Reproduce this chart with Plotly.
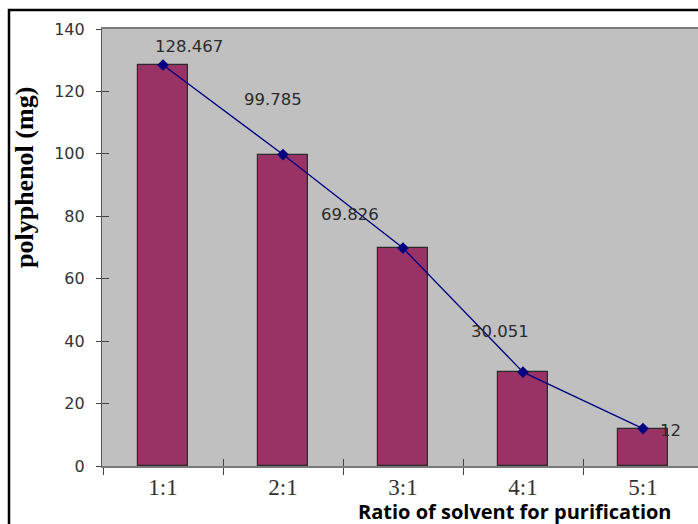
import plotly.graph_objects as go

# Polyphenol yield by solvent ratio
ratios = ["1:1", "2:1", "3:1", "4:1", "5:1"]
polyphenol = [128.467, 99.785, 69.826, 30.051, 12]
value_text = ["128.467", "99.785", "69.826", "30.051", "12"]
y_ticks = [0, 20, 40, 60, 80, 100, 120, 140]

# pixel offsets of each value label from its point
label_dx = [26, -10, -53, -23, 27]
label_dy = [19, 55, 34, 41, -2]

W, H = 698, 524
ML, MR, MT, MB = 102, 0, 29, 58
PW, PH = W - ML - MR, H - MT - MB
cat_px = 120.0
x0 = -0.5 - 1.0 / cat_px
xr = [x0, x0 + PW / cat_px]
yr = [0, 140]


def px_x(px):
    return (px - ML) / PW


def px_y(py):
    return (H - MB - py) / PH


fig = go.Figure()
fig.add_trace(go.Bar(
    x=ratios, y=polyphenol, width=0.42,
    marker=dict(color="#993366", line=dict(color="#2a2a2a", width=1.2)),
    xaxis="x", yaxis="y", showlegend=False, hoverinfo="skip",
))
fig.add_trace(go.Scatter(
    x=ratios, y=polyphenol, mode="lines+markers",
    line=dict(color="#000080", width=1.3),
    marker=dict(symbol="diamond", size=9, color="#000080"),
    xaxis="x2", yaxis="y2", showlegend=False, hoverinfo="skip",
))

for r, v, t, dx, dy in zip(ratios, polyphenol, value_text, label_dx, label_dy):
    fig.add_annotation(
        x=r, y=v, xref="x2", yref="y2", text=t, showarrow=False,
        xshift=dx, yshift=dy,
        font=dict(family="DejaVu Sans", size=16.5, color="#2b2b2b"),
    )

# axis titles
fig.add_annotation(
    x=px_x(24), y=px_y(178), xref="paper", yref="paper",
    text="<b>polyphenol (mg)</b>", textangle=-90, showarrow=False,
    xanchor="center", yanchor="middle",
    font=dict(family="Liberation Serif", size=26, color="black"),
)
fig.add_annotation(
    x=px_x(515), y=px_y(512), xref="paper", yref="paper",
    text="<b>Ratio of solvent for purification</b>", showarrow=False,
    xanchor="center", yanchor="middle",
    font=dict(family="Open Sans", size=20, color="black"),
)

# outer frame around the chart
fx = px_x(9)
fy = px_y(10)
fig.add_shape(type="path", xref="paper", yref="paper",
              path=f"M {fx},{-0.3} L {fx},{fy} L 1.2,{fy}",
              line=dict(color="black", width=2.5))

axis_line = "#7a7a7a"
fig.update_layout(
    width=W, height=H,
    margin=dict(l=ML, r=MR, t=MT, b=MB),
    paper_bgcolor="white", plot_bgcolor="#c0c0c0",
    bargap=0,
    xaxis=dict(
        type="category", categoryorder="array", categoryarray=ratios,
        range=xr, showgrid=False, zeroline=False,
        showline=True, linecolor=axis_line, linewidth=1.5, mirror=True,
        ticks="outside", tickson="boundaries", ticklen=7, tickwidth=1,
        tickcolor="#444",
        tickfont=dict(family="Liberation Serif", size=23, color="#333"),
    ),
    yaxis=dict(
        range=yr, tickvals=y_ticks, showgrid=False, zeroline=False,
        showline=True, linecolor="#555", linewidth=1.2,
        ticks="outside", ticklen=5, tickwidth=1, tickcolor="#444",
        ticklabelstandoff=8,
        tickfont=dict(family="DejaVu Sans", size=16, color="#333"),
    ),
    xaxis2=dict(
        type="category", categoryorder="array", categoryarray=ratios,
        range=xr, overlaying="x", anchor="y2", showgrid=False, zeroline=False,
        showline=False, ticks="inside", tickson="boundaries", ticklen=7,
        tickwidth=1, tickcolor="#444", showticklabels=False,
    ),
    yaxis2=dict(
        range=yr, tickvals=y_ticks, overlaying="y", anchor="x2", side="left",
        showgrid=False, zeroline=False, showline=False,
        ticks="inside", ticklen=7, tickwidth=1, tickcolor="#444",
        showticklabels=False,
    ),
)

fig.write_html("out.html")
